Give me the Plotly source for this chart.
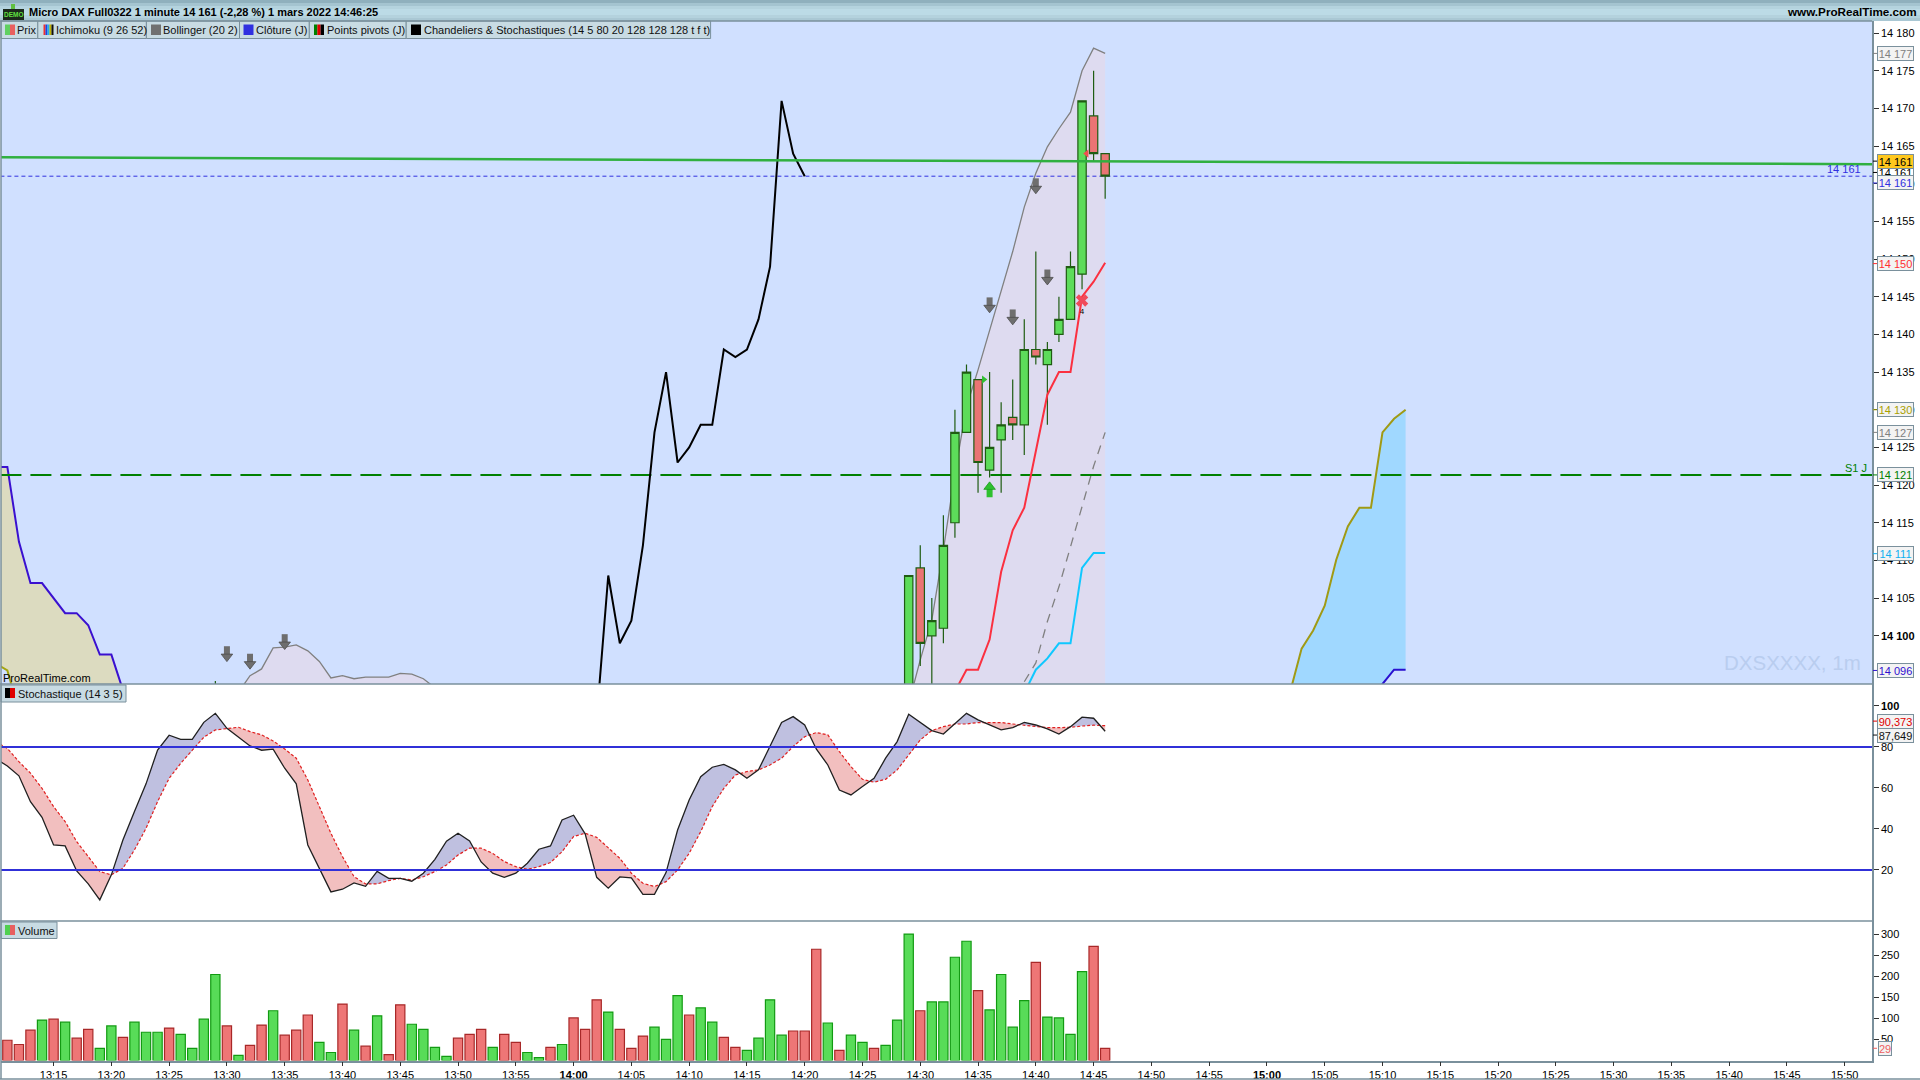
import plotly.graph_objects as go

# ---------- data ----------
vol_minutes = list(range(791, 887))
volume = [48,38,72,96,98,91,53,74,29,82,55,91,67,67,77,62,29,98,204,82,12,36,84,118,60,72,108,43,19,134,72,34,106,14,132,86,74,31,10,53,62,74,31,62,43,19,7,31,38,101,74,144,
          115,74,29,58,79,50,154,108,125,91,55,31,24,53,144,60,70,70,264,89,24,60,43,29,36,96,300,118,139,139,245,283,166,120,204,79,142,233,103,101,62,211,271,29]
vol_colors = list("RRRGRGRRGGRGGGRGGGG" "RGRRGRRRGGRGRGR" "RGGGG" "RRRGRRGGRGR" "RR"
                  "GRRRGGG" "RGGRR" "GGGG" "RRR" "GRGGRGGG" "RGGGG" "RGGGG" "RGGGG" "RR")

tick_minutes = list(range(795, 955, 5))
tick_labels = ["13:15","13:20","13:25","13:30","13:35","13:40","13:45","13:50","13:55","<b>14:00</b>",
               "14:05","14:10","14:15","14:20","14:25","14:30","14:35","14:40","14:45","14:50","14:55","<b>15:00</b>",
               "15:05","15:10","15:15","15:20","15:25","15:30","15:35","15:40","15:45","15:50"]

price_ticks = [14100,14105,14110,14115,14120,14125,14130,14135,14140,14145,14150,14155,14160,14165,14170,14175,14180]
price_labels = ["<b>14 100</b>","14 105","14 110","14 115","14 120","14 125","14 130","14 135","14 140","14 145","14 150","14 155","14 160","14 165","14 170","14 175","14 180"]

candle_minutes = [809] + list(range(869, 887))
candle_open  = [14088,14088,14109,14100,14101,14115,14127,14134,14122,14126,14129,14128,14138,14136,14140,14142,14148,14169,14164]
candle_high  = [14094,14108,14112,14105,14116,14130,14136,14134,14135,14131,14134,14142,14151,14139,14145,14151,14171,14175,14164]
candle_low   = [14086,14085,14096,14090,14099,14113,14127,14119,14121,14119,14126,14124,14136,14128,14139,14142,14146,14163,14158]
candle_close = [14090,14108,14099,14102,14112,14127,14135,14123,14125,14128,14128,14138,14137,14138,14142,14149,14171,14164,14161]

chikou_minutes = list(range(842, 861))
chikou = [14089,14108,14099,14102,14112,14127,14135,14123,14125,14128,14128,14138,14137,14138,14142,14149,14171,14164,14161]

tenkan_minutes = list(range(873, 887))
tenkan = [14092.6,14095.5,14095.5,14099.5,14108.5,14114,14117,14124.5,14132,14135,14135,14145,14147,14149.5]
kijun_minutes = list(range(879, 887))
kijun = [14092.4,14095.5,14097,14099,14099,14109,14111,14111]

boll_mid_minutes = list(range(879, 887))
boll_mid = [14093.9,14096.4,14101.9,14106.5,14111.8,14117.1,14122.5,14127]
boll_up_minutes = list(range(869, 887))
boll_up = [14091,14096.8,14102.1,14111.4,14121.6,14130.4,14135.3,14140.6,14145.9,14151,14156.9,14161.4,14164.9,14167.3,14169.5,14175,14178,14177.3]
boll_bump_minutes = list(range(810, 829))
boll_bump = [14091,14092.5,14094.7,14095.6,14098.4,14098.5,14098.8,14098,14096.6,14094.4,14094.7,14094.3,14094.5,14094.5,14094.5,14095,14094.9,14094.3,14093.1]

span_b_left_minutes = list(range(790, 802))
span_b_left = [14122.4,14122.4,14112.5,14107,14107,14105,14103,14103,14101.4,14097.5,14097.5,14092.8]
span_a_left_minutes = [790,791,792,801]
span_a_left = [14096.3,14095.4,14090,14085]

span_right_minutes = list(range(902, 913))
span_a_right = [14092.5,14098.3,14100.7,14104,14110.1,14114.5,14117,14117,14127,14128.8,14130]
span_b_right = [14085,14085,14085,14085,14085,14085,14085,14085,14093.6,14095.5,14095.5]

line_ends = [790.4, 952.4]
green_line = [14163.5, 14162.6]
pivot_s1 = 14121.35
last_close = 14161

down_arrow_minutes = [810,812,815,876,878,880,881]
down_arrow_values = [14097.5,14096.5,14099.1,14143.8,14142.2,14159.6,14147.5]
up_arrow_minutes = [876]
up_arrow_values = [14119.5]

stoch_minutes = list(range(790, 887))
stoch_k = [74.3,70.7,65.9,53.3,45.7,32.2,31.7,19.5,13.2,5.4,17.6,34.6,48.5,62.0,78.5,85.7,83.7,83.7,92.0,96.4,
           89.1,85.0,80.5,78.4,78.9,69.6,62.0,32.2,20.8,9.3,10.6,13.7,12.0,19.3,15.9,15.9,14.5,18.4,25.2,34.0,
           37.9,34.1,23.9,18.4,16.4,18.4,23.3,30.1,31.7,44.4,46.7,37.6,16.4,11.1,16.6,16.1,8.1,8.1,18.7,39.5,
           54.1,65.5,70.1,71.5,68.8,64.7,68.8,80.2,91.9,94.8,90.7,79.0,71.2,59.0,56.6,60.7,64.7,74.5,82.6,95.9,
           92.0,88.0,86.3,91.5,96.4,93.2,90.7,88.3,89.4,92.0,90.7,88.8,86.3,89.9,94.5,94.0,87.649]
stoch_d = [82.6,79.3,72.8,67.2,59.8,50.9,43.6,33.8,26.5,19.2,17.6,20.8,29.8,40.3,53.3,64.7,72.0,78.2,84.7,88.3,
           88.9,89.6,87.5,85.9,82.9,79.0,74.5,63.9,50.9,37.9,26.5,16.7,13.2,13.2,14.8,15.9,15.1,16.7,19.2,22.4,
           27.3,30.6,30.6,28.1,24.1,21.6,20.3,21.6,23.6,28.9,36.3,37.9,35.9,30.6,25.7,18.4,13.5,11.9,14.3,20.0,
           28.1,38.7,50.9,59.8,66.3,68.0,68.8,71.2,74.5,80.2,85.0,87.0,85.9,77.7,70.4,64.2,62.8,64.2,68.8,76.1,
           83.4,88.0,89.9,91.2,91.2,91.9,92.0,91.9,91.2,90.7,89.9,89.4,89.4,89.6,90.2,90.6,90.373]
stoch_levels = [20, 80]

# ---------- geometry helpers ----------
W, H = 1920, 1080
def fx(px): return px / W
def fy(px): return 1 - px / H

X_RANGE = [790.45, 952.36]
Y_MAIN = [14093.6, 14181.6]
FONT = "Liberation Sans"
BORDER = "#7a909c"
DARK_GREEN = "#1f5c12"

fig = go.Figure()

def line(x, y, color, width=1.5, dash=None, axis=1, **kw):
    suffix = "" if axis == 1 else str(axis)
    fig.add_trace(go.Scatter(x=x, y=y, mode="lines", xaxis="x"+suffix, yaxis="y"+suffix,
                             line=dict(color=color, width=width, dash=dash), hoverinfo="skip", **kw))

# ---------- Ichimoku cloud ----------
line(span_a_left_minutes, span_a_left, "#a5a510", 2)
line(span_b_left_minutes, span_b_left, "#3a10d0", 2, fill="tonexty", fillcolor="#dcdbc0")
line(span_right_minutes, span_b_right, "#2a10d0", 2)
line(span_right_minutes, span_a_right, "#a09a14", 2, fill="tonexty", fillcolor="#a0d8ff")

# ---------- Bollinger ----------
for xs, ys in ((boll_bump_minutes, boll_bump), (boll_up_minutes, boll_up)):
    line(xs, ys, "#808080", 1.3, fill="tozeroy", fillcolor="#dedbf0")
line(boll_mid_minutes, boll_mid, "#808080", 1.3, dash="9px,7px")

# ---------- horizontal levels ----------
line(line_ends, [pivot_s1, pivot_s1], "#008000", 2, dash="21px,9px")
line(line_ends, [last_close, last_close], "#3030e0", 1, dash="4px,3px")
line(chikou_minutes, chikou, "#000000", 2)

# ---------- candles and what sits on them: overlaying axes 4 ----------
fig.add_trace(go.Candlestick(x=candle_minutes, open=candle_open, high=candle_high, low=candle_low, close=candle_close,
                             xaxis="x4", yaxis="y4", whiskerwidth=0, hoverinfo="skip",
                             increasing=dict(fillcolor="#5ddc5a", line=dict(color=DARK_GREEN, width=1.2)),
                             decreasing=dict(fillcolor="#ea7474", line=dict(color=DARK_GREEN, width=1.2))))
line(tenkan_minutes, tenkan, "#fb3040", 2, axis=4)
line(kijun_minutes, kijun, "#10c8ff", 2, axis=4)
line(line_ends, green_line, "#30b040", 2.5, axis=4)

# ---------- signals ----------
PX = 1 / 7.54
def block_arrows(xs, ys, direction, fill, edge):
    sgn = 1 if direction == "down" else -1
    fig.add_trace(go.Scatter(x=xs, y=[v + sgn * 3.5 * PX for v in ys], mode="markers", xaxis="x4", yaxis="y4", hoverinfo="skip",
                             marker=dict(symbol="line-ns", size=7, line=dict(color=fill, width=6))))
    fig.add_trace(go.Scatter(x=xs, y=[v - sgn * 2 * PX for v in ys], mode="markers", xaxis="x4", yaxis="y4", hoverinfo="skip",
                             marker=dict(symbol="triangle-" + direction, size=10, color=fill, line=dict(color=edge, width=0.8))))
block_arrows(down_arrow_minutes, down_arrow_values, "down", "#6e6e6e", "#4c4c4c")
block_arrows(up_arrow_minutes, up_arrow_values, "up", "#2fc02f", "#1f9a1f")
fig.add_trace(go.Scatter(x=[884.4], y=[14164], mode="markers", xaxis="x4", yaxis="y4", hoverinfo="skip",
                         marker=dict(symbol="triangle-left", size=7, color="#f05050")))
fig.add_trace(go.Scatter(x=[875.5], y=[14134], mode="markers", xaxis="x4", yaxis="y4", hoverinfo="skip",
                         marker=dict(symbol="triangle-right", size=7, color="#30c030")))
fig.add_trace(go.Scatter(x=[884], y=[14144.5], mode="markers", xaxis="x4", yaxis="y4", hoverinfo="skip",
                         marker=dict(symbol="x", size=11, color="#f04a5a", line=dict(width=0))))
fig.add_trace(go.Scatter(x=[884], y=[14143], mode="text", text=["4"], xaxis="x4", yaxis="y4", hoverinfo="skip",
                         textposition="middle center", textfont=dict(family=FONT, size=8, color="#000000")))

# ---------- stochastic fills ----------
def stoch_fills():
    seg_x, seg_k, seg_d = [stoch_minutes[0]], [stoch_k[0]], [stoch_d[0]]
    sign = stoch_k[0] >= stoch_d[0]
    def flush(sg):
        fig.add_trace(go.Scatter(x=seg_x + seg_x[::-1], y=seg_k + seg_d[::-1], mode="lines", fill="toself",
                                 fillcolor="#bfc0e0" if sg else "#f2bfbf", line=dict(width=0),
                                 xaxis="x2", yaxis="y2", hoverinfo="skip"))
    for i in range(1, len(stoch_minutes)):
        s = stoch_k[i] >= stoch_d[i]
        if s != sign:
            a = stoch_k[i-1] - stoch_d[i-1]
            b = stoch_k[i] - stoch_d[i]
            t = a / (a - b)
            xc = stoch_minutes[i-1] + t
            yc = stoch_k[i-1] + t * (stoch_k[i] - stoch_k[i-1])
            seg_x.append(xc); seg_k.append(yc); seg_d.append(yc)
            flush(sign)
            seg_x, seg_k, seg_d = [xc], [yc], [yc]
            sign = s
        seg_x.append(stoch_minutes[i]); seg_k.append(stoch_k[i]); seg_d.append(stoch_d[i])
    flush(sign)
stoch_fills()
line(stoch_minutes, stoch_d, "#e02020", 1.2, dash="3px,2px", axis=2)
line(stoch_minutes, stoch_k, "#202020", 1.3, axis=2)
for lvl in stoch_levels:
    line(line_ends, [lvl, lvl], "#3030d8", 2, axis=2)

# ---------- volume ----------
fig.add_trace(go.Bar(x=vol_minutes, y=volume, width=0.8, xaxis="x3", yaxis="y3", hoverinfo="skip",
                     marker=dict(color=["#58dc58" if c == "G" else "#ee7676" for c in vol_colors],
                                 line=dict(color=["#129a12" if c == "G" else "#a82828" for c in vol_colors], width=1.2))))

# ---------- layout: shapes ----------
shapes = []
def rect(x0, y0, x1, y1, fill, border=None, bw=1):
    shapes.append(dict(type="rect", xref="paper", yref="paper", x0=fx(x0), x1=fx(x1), y0=fy(y0), y1=fy(y1),
                       fillcolor=fill, line=dict(color=border or fill, width=bw if border else 0), layer="above"))

# main panel background
shapes.append(dict(type="rect", xref="paper", yref="paper", x0=fx(1), x1=fx(1872), y0=fy(684), y1=fy(21),
                   fillcolor="#d0e0ff", line=dict(width=0), layer="below"))

# top title strip
strip_colors = ["#8fb0bd","#a4c4d0","#b4d3de","#bcdbe6","#bcdbe6","#b4d2dd","#aac8d4"]
for i, c in enumerate(strip_colors):
    rect(0, i*3, W, (i+1)*3, c)

# legend boxes
BOX = "#c8dbe3"
legend_boxes = [(1,37.8),(37.8,146.4),(146.4,239.5),(239.5,309.3),(309.3,406.2),(406.2,710.6)]
for a, b in legend_boxes:
    rect(a, 21, b, 38.5, BOX, BORDER)
rect(1, 685, 126, 702, BOX, BORDER)
rect(1, 922, 57, 938.5, BOX, BORDER)

def swatch(x0, stripes, y0, y1, total=10):
    w = total / len(stripes)
    for i, c in enumerate(stripes):
        rect(x0 + i*w, y0, x0 + (i+1)*w, y1, c)
swatch(5, ["#60d060","#e86060"], 24.5, 35)
swatch(43.5, ["#f03030","#2040e0","#20b0f0","#c0b000","#101010"], 24.5, 35)
swatch(151, ["#707070"], 24.5, 35)
swatch(243.5, ["#3030e0"], 24.5, 35)
swatch(314, ["#008000","#e00000","#000000"], 24.5, 35)
swatch(411, ["#000000"], 24.5, 35)
swatch(5, ["#000000","#e00000"], 688, 698)
swatch(5, ["#50d050","#e86060"], 925, 935)

# demo icon
rect(3, 9, 24, 20, "#1c2a1c")
rect(11, 4, 15, 9, "#60c040")

# frame
frame = [(0,21,1872,21),(0,684,1872,684),(0,921,1872,921),(0,1079,W,1079),(1,21,1,1079)]
for x0,y0,x1,y1 in frame:
    shapes.append(dict(type="line", xref="paper", yref="paper", x0=fx(x0), x1=fx(x1), y0=fy(y0), y1=fy(y1),
                       line=dict(color=BORDER, width=1.5), layer="above"))

# ---------- layout: annotations ----------
annotations = []
def text(x, y, s, size=11, color="#000000", anchor="left", family=FONT):
    annotations.append(dict(xref="paper", yref="paper", x=fx(x), y=fy(y), text=s, showarrow=False,
                            xanchor=anchor, yanchor="middle", font=dict(family=family, size=size, color=color),
                            borderpad=0, borderwidth=0))

text(29, 12, "<b>Micro DAX Full0322 1 minute 14 161 (-2,28 %) 1 mars 2022 14:46:25</b>", 11)
text(1917, 12, "<b>www.ProRealTime.com</b>", 11.7, anchor="right")
text(13.5, 15, "<b>DEMO</b>", 6.5, "#60e040", anchor="center")
for x, s in ((17,"Prix"),(55.7,"Ichimoku (9 26 52)"),(163,"Bollinger (20 2)"),(256,"Clôture (J)"),(327,"Points pivots (J)"),
             (424,"Chandeliers &amp; Stochastiques (14 5 80 20 128 128 128 t f t)"),):
    text(x, 30, s, 11, "#101010")
text(17.5, 693.5, "Stochastique (14 3 5)", 11, "#101010")
text(18, 930.5, "Volume", 11, "#101010")
text(2.5, 678, "ProRealTime.com", 11)
text(1861, 662, "DXSXXXX, 1m", 20.5, "#b9cdef", anchor="right")
text(1844, 169, "14 161", 11, "#3030e0", anchor="center")
text(1867, 468, "S1 J", 11, "#008000", anchor="right")

def tag(value, s, color, yref="y", bg="#f3f3f3", width=35, xc=1895.5):
    annotations.append(dict(xref="paper", yref=yref, x=fx(xc), y=value, text=s, showarrow=False,
                            xanchor="center", yanchor="middle", width=width, height=13, bgcolor=bg,
                            bordercolor=BORDER, borderwidth=1, borderpad=0, align="center",
                            font=dict(family=FONT, size=11, color=color)))
    shapes.append(dict(type="line", xref="paper", yref=yref, x0=fx(1873), x1=fx(1877), y0=value, y1=value,
                       line=dict(color=color, width=1), layer="above"))

tag(14177.3, "14 177", "#808080")
tag(14161.5, "14 161", "#000000", bg="#ffffff")
tag(14163.0, "14 161", "#000000", bg="#ffc81e")
tag(14160.1, "14 161", "#3030e0")
tag(14149.4, "14 150", "#ff3030")
tag(14130, "14 130", "#a8a000")
tag(14127, "14 127", "#808080")
tag(14121.35, "14 121", "#008000")
tag(14110.9, "14 111", "#10b0f0")
tag(14095.4, "14 096", "#3010d0")
tag(92.6, "90,373", "#e00000", yref="y2")
tag(85.8, "87,649", "#101010", yref="y2")
tag(29, "29", "#ee6060", yref="y3", width=12, xc=1885)

# ---------- axes ----------
def yaxis(rng, dom, tickvals, ticktext, anchor):
    return dict(domain=dom, range=rng, side="right", anchor=anchor, tickmode="array", tickvals=tickvals, ticktext=ticktext,
                ticks="outside", ticklen=5, tickwidth=1, tickcolor="#303030", showgrid=False, zeroline=False,
                showline=True, linecolor=BORDER, linewidth=1.5,
                tickfont=dict(family=FONT, size=11, color="#000000"))

def xaxis(dom_y_anchor, show):
    return dict(domain=[fx(1), fx(1872)], range=X_RANGE, anchor=dom_y_anchor, showgrid=False, zeroline=False,
                showline=show, linecolor=BORDER, linewidth=1.5, tickmode="array",
                tickvals=tick_minutes if show else [], ticktext=tick_labels if show else [],
                ticks="outside" if show else "", ticklen=4, tickcolor="#303030",
                tickfont=dict(family=FONT, size=11, color="#000000"), rangeslider=dict(visible=False))

y_main = yaxis(Y_MAIN, [fy(684), fy(21)], price_ticks, price_labels, "x")
y_stoch = yaxis([-4.9, 110.7], [fy(921), fy(684)], [20,40,60,80,100], ["20","40","60","80","<b>100</b>"], "x2")
y_vol = yaxis([0, 331], [fy(1060.5), fy(921)], [50,100,150,200,250,300], ["50","100","150","200","250","300"], "x3")

fig.update_layout(
    width=W, height=H, margin=dict(l=0, r=0, t=0, b=0), autosize=False,
    paper_bgcolor="#ffffff", plot_bgcolor="rgba(0,0,0,0)", showlegend=False,
    boxgap=0.1, boxgroupgap=0.2,
    xaxis=xaxis("y", False), xaxis2=xaxis("y2", False), xaxis3=xaxis("y3", True),
    yaxis=y_main, yaxis2=y_stoch, yaxis3=y_vol,
    xaxis4=dict(domain=[fx(1), fx(1872)], range=X_RANGE, overlaying="x", anchor="y4", visible=False,
                rangeslider=dict(visible=False)),
    yaxis4=dict(domain=[fy(684), fy(21)], range=Y_MAIN, overlaying="y", anchor="x4", visible=False),
    shapes=shapes, annotations=annotations,
)

fig.write_html("out.html", config=dict(displayModeBar=False),
               post_script="document.body.style.margin='0';document.body.style.overflow='hidden';")
